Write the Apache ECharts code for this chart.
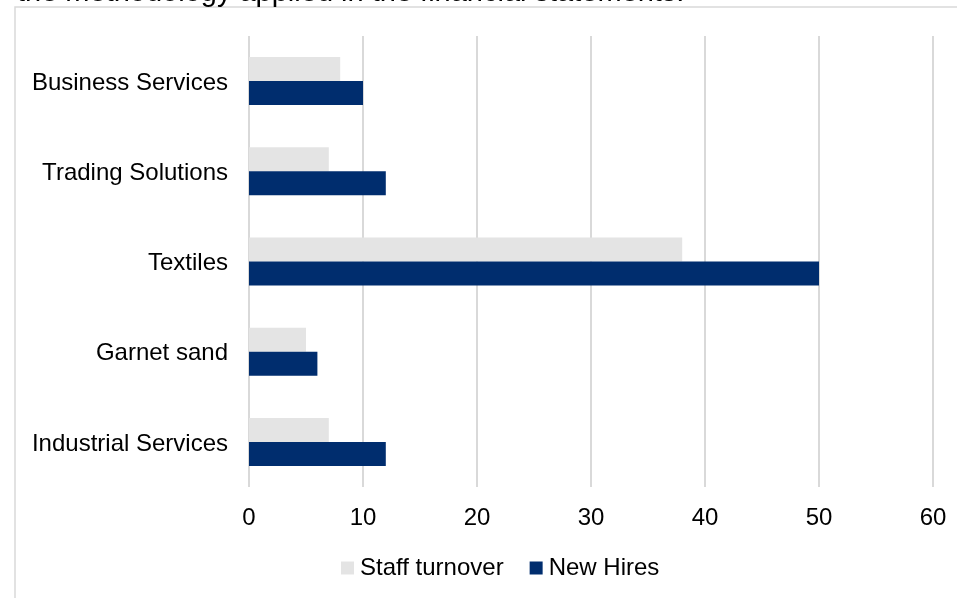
<!DOCTYPE html>
<html>
<head>
<meta charset="utf-8">
<script src="https://cdn.jsdelivr.net/npm/echarts@6/dist/echarts.min.js"></script>
<style>
  html, body { margin: 0; padding: 0; background: #ffffff; }
  #chart { width: 957px; height: 598px; }
</style>
</head>
<body>
<div id="chart"></div>
<script>
// Business segments, listed bottom to top along the category axis
const segments = ['Industrial Services', 'Garnet sand', 'Textiles', 'Trading Solutions', 'Business Services'];
const staffTurnover = [7, 5, 38, 7, 8];
const newHires = [12, 6, 50, 12, 10];
const valueTicks = [0, 10, 20, 30, 40, 50, 60];

const FONT = 'Liberation Sans, Arial, sans-serif';
const chart = echarts.init(document.getElementById('chart'));

chart.setOption({
  animation: false,
  backgroundColor: '#ffffff',
  textStyle: { fontFamily: FONT },
  graphic: [
    {
      type: 'rect',
      z: -10,
      silent: true,
      shape: { x: 15, y: 7, width: 1100, height: 1100 },
      style: { fill: 'none', stroke: '#d9d9d9', lineWidth: 1.5 }
    },
    {
      type: 'text',
      z: 10,
      silent: true,
      x: 17,
      y: -7,
      style: {
        text: 'the methodology applied in the financial statements.',
        font: '29px ' + FONT,
        fill: '#000000',
        textAlign: 'left',
        textVerticalAlign: 'middle'
      }
    }
  ],
  legend: {
    data: ['Staff turnover', 'New Hires'],
    left: 336,
    top: 551,
    itemWidth: 13,
    itemHeight: 13,
    itemGap: 26,
    icon: 'rect',
    textStyle: { fontSize: 24, color: '#000000', fontFamily: FONT, padding: [0, 0, 0, 1] }
  },
  grid: { left: 249, right: 24, top: 36, bottom: 111, containLabel: false },
  xAxis: {
    type: 'value',
    min: valueTicks[0],
    max: valueTicks[valueTicks.length - 1],
    interval: valueTicks[1] - valueTicks[0],
    axisLine: { show: false },
    axisTick: { show: false },
    axisLabel: { fontSize: 24, color: '#000000', margin: 19, fontFamily: FONT },
    splitLine: { show: true, lineStyle: { color: '#d9d9d9', width: 2 } }
  },
  yAxis: {
    type: 'category',
    data: segments,
    axisLine: { show: false },
    axisTick: { show: false },
    axisLabel: { fontSize: 24, color: '#000000', margin: 21, fontFamily: FONT, verticalAlign: 'top', padding: [-10, 0, 0, 0] },
    splitLine: { show: false }
  },
  series: [
    {
      name: 'Staff turnover',
      type: 'bar',
      data: staffTurnover,
      barWidth: 24,
      barGap: '0%',
      itemStyle: { color: '#e4e4e4' }
    },
    {
      name: 'New Hires',
      type: 'bar',
      data: newHires,
      barWidth: 24,
      barGap: '0%',
      itemStyle: { color: '#002d6e' }
    }
  ]
});
</script>
</body>
</html>
